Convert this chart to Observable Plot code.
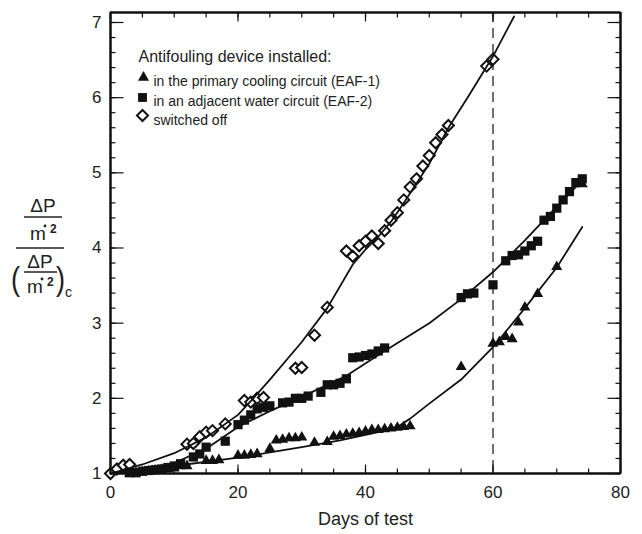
<!DOCTYPE html>
<html>
<head>
<meta charset="utf-8">
<script src="https://cdn.jsdelivr.net/npm/d3@7"></script>
<script src="https://cdn.jsdelivr.net/npm/@observablehq/plot@0.6"></script>
<style>
  html, body { margin: 0; padding: 0; background: #fff; }
  #wrap { position: relative; width: 642px; height: 534px; background: #fff; }
  #wrap > svg.chart { font-family: 'Liberation Sans', Arial, Helvetica, sans-serif; font-size: 17px; color: #222; }
  #ylab { position: absolute; left: 0; top: 0; }
</style>
</head>
<body>
<div id="wrap"></div>
<script>
// ---- data ----
const offDays = [0,1,2,3,12,13,14,15,16,18,21,22,23,24,29,30,32,34,37,38,39,40,41,42,43,44,45,46,47,48,49,50,51,52,53,59,60];
const offVals = [1.0,1.06,1.11,1.12,1.39,1.40,1.49,1.55,1.57,1.66,1.97,1.95,2.0,2.01,2.40,2.41,2.84,3.21,3.96,3.89,4.03,4.09,4.16,4.06,4.23,4.37,4.47,4.64,4.81,4.92,5.09,5.23,5.40,5.51,5.63,6.42,6.51];

const sqDays = [3,4,5,6,7,8,9,10,11,13,14,15,18,20,21,22,23,24,25,27,28,29,30,31,33,34,35,36,37,38,39,40,41,42,43,55,56,57,60,62,63,64,65,66,67,68,69,70,71,72,73,74];
const sqVals = [1.01,1.01,1.03,1.04,1.05,1.06,1.08,1.10,1.13,1.22,1.26,1.35,1.43,1.65,1.71,1.78,1.86,1.88,1.90,1.94,1.95,2.0,2.0,2.03,2.08,2.18,2.18,2.20,2.26,2.54,2.55,2.57,2.59,2.63,2.67,3.34,3.39,3.40,3.51,3.83,3.90,3.91,3.96,4.03,4.09,4.37,4.42,4.53,4.64,4.75,4.87,4.92];

const triDays = [3,4,5,6,7,8,9,10,11,12,15,16,17,20,21,22,23,25,26,27,28,29,30,32,34,35,36,37,38,39,40,41,42,43,44,45,46,47,55,60,61,62,63,64,65,67,70,74];
const triVals = [1.0,1.01,1.02,1.03,1.04,1.05,1.06,1.07,1.1,1.1,1.17,1.17,1.18,1.24,1.24,1.25,1.26,1.33,1.44,1.45,1.47,1.47,1.48,1.41,1.42,1.49,1.50,1.52,1.53,1.54,1.56,1.58,1.58,1.59,1.60,1.61,1.62,1.63,2.42,2.73,2.75,2.82,2.79,3.01,3.21,3.39,3.75,4.85];

// fitted curves (vertices)
const offLineX = [0,5,10,15,20,22.5,25,30,34,38,40,42,44,46,50,53,56,60,63.3];
const offLineY = [1,1.12,1.27,1.48,1.78,2.01,2.25,2.75,3.2,3.78,3.98,4.15,4.35,4.6,5.12,5.6,6.0,6.55,7.08];
const sqLineX = [0,5,10,15,20,25,30,37,43,50,55,60,65,70,74];
const sqLineY = [1,1.05,1.14,1.33,1.62,1.83,2.02,2.3,2.63,3.0,3.32,3.68,4.1,4.55,4.9];
const triLineX = [0,10,20,25,30,36,42,45,47,50,55,60,65,70,74];
const triLineY = [1,1.1,1.21,1.28,1.35,1.44,1.55,1.62,1.73,1.93,2.25,2.68,3.2,3.74,4.28];

const markerDay = [60];

const xMajor = [0,20,40,60,80];
const xMinor = d3.range(0, 81, 5);
const yMajor = [1,2,3,4,5,6,7];
const yMinor = d3.range(1, 7.01, 0.2).map(v => +v.toFixed(1));

const legendTitle = "Antifouling device installed:";
const legendLabels = ["in the primary cooling circuit (EAF-1)", "in an adjacent water circuit (EAF-2)", "switched off"];
const xLabel = "Days of test";

// ---- build tables ----
const zip = (xs, ys) => xs.map((x, i) => ({x, y: ys[i]}));
const off = zip(offDays, offVals), sq = zip(sqDays, sqVals), tri = zip(triDays, triVals);
const offLine = zip(offLineX, offLineY), sqLine = zip(sqLineX, sqLineY), triLine = zip(triLineX, triLineY);

const W = 642, H = 534, mL = 110, mR = 22, mT = 12, mB = 61;
const pw = W - mL - mR, ph = H - mT - mB;
const xDom = [0, 80], yDom = [1, 7.133];
const ink = "#111";
const majLen = 9, minLen = 5;
// pixel lengths -> data units
const kx = (xDom[1] - xDom[0]) / pw, ky = (yDom[1] - yDom[0]) / ph;

// inward tick segments (x ticks on bottom/top, y ticks on left/right), each its own series
const tickSegs = [];
function addX(vals, len, tag) {
  for (const v of vals) {
    tickSegs.push({x: v, y: yDom[0], z: tag + "b" + v}, {x: v, y: yDom[0] + len * ky, z: tag + "b" + v});
    tickSegs.push({x: v, y: yDom[1], z: tag + "t" + v}, {x: v, y: yDom[1] - len * ky, z: tag + "t" + v});
  }
}
function addY(vals, len, tag) {
  for (const v of vals) {
    tickSegs.push({x: xDom[0], y: v, z: tag + "l" + v}, {x: xDom[0] + len * kx, y: v, z: tag + "l" + v});
    tickSegs.push({x: xDom[1], y: v, z: tag + "r" + v}, {x: xDom[1] - len * kx, y: v, z: tag + "r" + v});
  }
}
addX(xMinor, minLen, "xm"); addX(xMajor, majLen, "xM");
addY(yMinor, minLen, "ym"); addY(yMajor, majLen + 4, "yM");
const framePath = [
  {x: xDom[0], y: yDom[0]}, {x: xDom[1], y: yDom[0]}, {x: xDom[1], y: yDom[1]},
  {x: xDom[0], y: yDom[1]}, {x: xDom[0], y: yDom[0]}
];

const chart = Plot.plot({
  className: "chart",
  width: W, height: H,
  marginLeft: mL, marginRight: mR, marginTop: mT, marginBottom: mB,
  x: {domain: xDom, ticks: xMajor, tickSize: 0, tickPadding: 12, tickFormat: d => String(d), label: null},
  y: {domain: yDom, ticks: yMajor, tickSize: 0, tickPadding: 9, tickFormat: d => String(d), label: null},
  marks: [
    Plot.line(tickSegs, {x: "x", y: "y", z: "z", stroke: ink, strokeWidth: 1.2, strokeLinecap: "butt"}),
    Plot.ruleX(markerDay, {stroke: ink, strokeWidth: 1.2, strokeDasharray: "10,6"}),
    Plot.dot(tri, {x: "x", y: "y", symbol: "triangle", r: 4.1, fill: ink, stroke: null}),
    Plot.dot(sq, {x: "x", y: "y", symbol: "square", r: 5.2, fill: ink, stroke: null}),
    Plot.dot(off, {x: "x", y: "y", symbol: "diamond2", r: 5, fill: "white", stroke: ink, strokeWidth: 2}),
    Plot.line(offLine, {x: "x", y: "y", stroke: ink, strokeWidth: 1.8}),
    Plot.line(sqLine, {x: "x", y: "y", stroke: ink, strokeWidth: 1.8}),
    Plot.line(triLine, {x: "x", y: "y", stroke: ink, strokeWidth: 1.8}),
    // legend
    Plot.text([legendTitle], {frameAnchor: "top-left", dx: 28, dy: 38, textAnchor: "start", fontSize: 16, fill: "#222"}),
    Plot.dot([0], {frameAnchor: "top-left", dx: 33, dy: 65, symbol: "triangle", r: 4.1, fill: ink, stroke: null}),
    Plot.dot([0], {frameAnchor: "top-left", dx: 32, dy: 85, symbol: "square", r: 5.0, fill: ink, stroke: null}),
    Plot.dot([0], {frameAnchor: "top-left", dx: 32, dy: 103, symbol: "diamond2", r: 5, fill: "white", stroke: ink, strokeWidth: 2}),
    Plot.text([legendLabels[0]], {frameAnchor: "top-left", dx: 43, dy: 64, textAnchor: "start", fontSize: 14, fill: "#222"}),
    Plot.text([legendLabels[1]], {frameAnchor: "top-left", dx: 43, dy: 84, textAnchor: "start", fontSize: 14, fill: "#222"}),
    Plot.text([legendLabels[2]], {frameAnchor: "top-left", dx: 43, dy: 103, textAnchor: "start", fontSize: 14, fill: "#222"}),
    Plot.text([xLabel], {frameAnchor: "bottom", dy: 51, fontSize: 18, fill: "#222"}),
    // plot frame
    Plot.line(framePath, {x: "x", y: "y", stroke: ink, strokeWidth: 2, strokeLinecap: "square", strokeLinejoin: "miter"}),
    Plot.ruleX(xDom, {stroke: ink, strokeWidth: 2}),
    Plot.ruleY(yDom, {stroke: ink, strokeWidth: 2})
  ]
});
document.getElementById("wrap").appendChild(chart);

// y-axis label: (ΔP / ṁ²) / (ΔP / ṁ²)_c
const ns = "http://www.w3.org/2000/svg";
const lab = document.createElementNS(ns, "svg");
lab.setAttribute("id", "ylab");
lab.setAttribute("width", 100);
lab.setAttribute("height", 534);
lab.setAttribute("font-family", "'Liberation Sans', Arial, Helvetica, sans-serif");
lab.setAttribute("fill", "#222");
function T(x, y, s, size, extra = {}) {
  const t = document.createElementNS(ns, "text");
  t.setAttribute("x", x); t.setAttribute("y", y);
  t.setAttribute("font-size", size);
  for (const k in extra) t.setAttribute(k, extra[k]);
  t.textContent = s; lab.appendChild(t);
}
function L(x1, x2, y, w) {
  const l = document.createElementNS(ns, "line");
  l.setAttribute("x1", x1); l.setAttribute("x2", x2); l.setAttribute("y1", y); l.setAttribute("y2", y);
  l.setAttribute("stroke", "#222"); l.setAttribute("stroke-width", w); lab.appendChild(l);
}
function Dt(x, y) {
  const c = document.createElementNS(ns, "circle");
  c.setAttribute("cx", x); c.setAttribute("cy", y); c.setAttribute("r", 1.4); c.setAttribute("fill", "#222"); lab.appendChild(c);
}
// upper fraction
T(43, 212, "ΔP", 19, {"text-anchor": "middle"});
L(24, 62, 217, 1.3);
T(38, 240, "m", 19, {"text-anchor": "middle"});
Dt(45, 226);
T(50, 233, "2", 12, {"font-weight": "bold"});
L(16, 64, 248, 1.5);
// lower fraction in parentheses
T(11, 290, "(", 34, {"transform": "translate(11,290) scale(0.8,1) translate(-11,-290)"});
T(40, 268, "ΔP", 19, {"text-anchor": "middle"});
L(24, 57, 272, 1.3);
T(35, 293, "m", 19, {"text-anchor": "middle"});
Dt(42, 279);
T(47, 286, "2", 12, {"font-weight": "bold"});
T(56, 290, ")", 34, {"transform": "translate(56,290) scale(0.8,1) translate(-56,-290)"});
T(65, 297, "c", 14);
document.getElementById("wrap").appendChild(lab);
</script>
</body>
</html>
